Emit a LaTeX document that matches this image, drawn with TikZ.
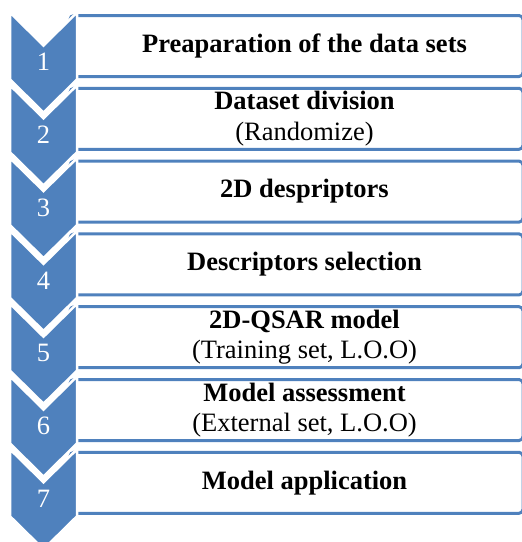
\documentclass[tikz,border=0pt]{standalone}
\usepackage{fontspec}
\setmainfont{Liberation Serif}
\definecolor{stepblue}{HTML}{4F81BD}

\tikzstyle{stepbox}=[draw=stepblue,line width=3pt,rounded corners=4pt,minimum width=453pt,minimum height=61pt,inner sep=0pt]
\tikzstyle{steptext}=[align=center,inner sep=0pt,font=\fontsize{26.5}{30.5}\selectfont]
\tikzstyle{chevron}=[fill=stepblue,draw=white,line width=2.5pt,line join=miter]
\tikzstyle{number}=[text=white,inner sep=0pt,font=\fontsize{26.5}{30}\selectfont]

\begin{document}
\begin{tikzpicture}[x=1pt,y=-1pt]
  \useasboundingbox (0,0) rectangle (522,542);
  \clip (0,0) rectangle (522,542);
  % First we draw the boxes with the texts of the steps
  \foreach \n/\la in {{1/{\textbf{Preaparation of the data sets}}},
                      {2/{\textbf{Dataset division}\\(Randomize)}},
                      {3/{\textbf{2D despriptors}}},
                      {4/{\textbf{Descriptors selection}}},
                      {5/{\textbf{2D-QSAR model}\\(Training set, L.O.O)}},
                      {6/{\textbf{Model assessment}\\(External set, L.O.O)}},
                      {7/{\textbf{Model application}}}}
  {
    \node[stepbox] (box\n) at (296.5,{46+72.8*(\n-1)}) {};
    \node[steptext] (text\n) at ([xshift=8pt]box\n.center) {\la};
  }
  % Then the chevrons on top of the boxes, with their numbers
  \foreach \n in {1,...,7}
  {
    \pgfmathsetmacro{\ytop}{12.5+72.8*(\n-1)}
    \pgfmathsetmacro{\ynotch}{\ytop+33}
    \pgfmathsetmacro{\ylow}{\ytop+67}
    \pgfmathsetmacro{\ytip}{\ytop+100}
    \path[chevron] (10,\ytop) -- (43.5,\ynotch) -- (77,\ytop) -- (77,\ylow)
                   -- (43.5,\ytip) -- (10,\ylow) -- cycle;
    \node[number] (num\n) at (43.5,{\ytop+49.5}) {\n};
  }
\end{tikzpicture}
\end{document}
